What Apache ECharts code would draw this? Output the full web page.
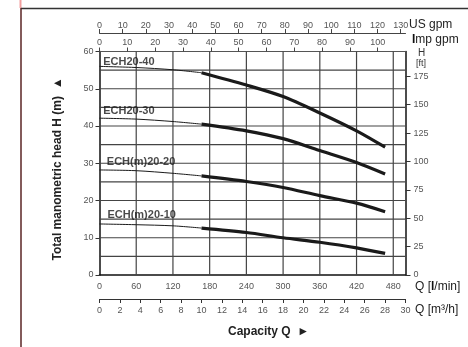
<!DOCTYPE html>
<html>
<head>
<meta charset="utf-8">
<script src="https://cdn.jsdelivr.net/npm/echarts@6/dist/echarts.min.js"></script>
<style>
html, body { margin: 0; padding: 0; background: #fff; }
#chart { width: 468px; height: 347px; }
</style>
</head>
<body>
<div id="chart"></div>
<script>
// Q in l/min, thin part then thick (working range) part
var flowThin = [0, 60, 120, 166.7];
var flowThick = [166.7, 240, 300, 360, 420, 466.7];

var pumpNames = ["ECH20-40", "ECH20-30", "ECH(m)20-20", "ECH(m)20-10"];
// H in m
var head40Thin = [56.0, 55.7, 55.1, 54.3];
var head40Thick = [54.3, 51.0, 47.9, 43.5, 38.7, 34.3];
var head30Thin = [42.1, 41.85, 41.2, 40.5];
var head30Thick = [40.5, 38.7, 36.6, 33.4, 30.2, 27.1];
var head20Thin = [28.2, 28.0, 27.3, 26.6];
var head20Thick = [26.6, 25.1, 23.5, 21.3, 19.3, 17.0];
var head10Thin = [13.7, 13.5, 13.2, 12.6];
var head10Thick = [12.6, 11.4, 10.0, 8.8, 7.3, 5.8];

// where the curve names sit (Q, H)
var nameQ = [6, 6, 12, 13];
var nameH = [57.3, 44.0, 30.3, 16.1];

// tick labels
var lminTicks = [0, 60, 120, 180, 240, 300, 360, 420, 480];
var m3hTicks = [0, 2, 4, 6, 8, 10, 12, 14, 16, 18, 20, 22, 24, 26, 28, 30];
var usGpmTicks = [0, 10, 20, 30, 40, 50, 60, 70, 80, 90, 100, 110, 120, 130];
var impGpmTicks = [0, 10, 20, 30, 40, 50, 60, 70, 80, 90, 100];
var mTicks = [0, 10, 20, 30, 40, 50, 60];
var ftTicks = [0, 25, 50, 75, 100, 125, 150, 175];
// grid lines
var gridQ = [60, 120, 180, 240, 300, 360, 420, 480];
var gridH = [5, 10, 15, 20, 25, 30, 35, 40, 45, 50, 55];

var Q_MAX = 500;
var H_MAX = 60;

var FONT = "Liberation Sans";
var labelGray = "#555";
var gridColor = "#444";

function zip (xs, ys) {
    var out = [];
    for (var i = 0; i < xs.length; i++) {
        out.push([xs[i], ys[i]]);
    }
    return out;
}

var thinSets = [head40Thin, head30Thin, head20Thin, head10Thin];
var thickSets = [head40Thick, head30Thick, head20Thick, head10Thick];

var series = [];
// vertical grid lines (splitLine didn't show up, so plain two-point lines)
gridQ.forEach(function (q) {
    series.push({
        type: "line",
        xAxisIndex: 0, yAxisIndex: 0,
        data: [[q, 0], [q, H_MAX]],
        showSymbol: false,
        silent: true,
        lineStyle: { color: gridColor, width: 1.2 },
        z: 2
    });
});
// horizontal grid lines
gridH.forEach(function (h) {
    series.push({
        type: "line",
        xAxisIndex: 0, yAxisIndex: 0,
        data: [[0, h], [Q_MAX, h]],
        showSymbol: false,
        silent: true,
        lineStyle: { color: gridColor, width: 1.2 },
        z: 2
    });
});
thinSets.forEach(function (h, i) {
    series.push({
        type: "line",
        name: pumpNames[i] + " thin",
        xAxisIndex: 0, yAxisIndex: 0,
        data: zip(flowThin, h),
        smooth: 0.3,
        showSymbol: false,
        lineStyle: { color: "#1a1a1a", width: 1 },
        z: 10
    });
});
thickSets.forEach(function (h, i) {
    series.push({
        type: "line",
        name: pumpNames[i],
        xAxisIndex: 0, yAxisIndex: 0,
        data: zip(flowThick, h),
        smooth: 0.3,
        showSymbol: false,
        lineStyle: { color: "#1a1a1a", width: 3.2, cap: "butt" },
        z: 10
    });
});
// curve names
series.push({
    type: "scatter",
    xAxisIndex: 0, yAxisIndex: 0,
    symbolSize: 0,
    data: pumpNames.map(function (n, i) { return { value: [nameQ[i], nameH[i]], name: n }; }),
    label: {
        show: true,
        position: "right",
        distance: 0,
        formatter: "{b}",
        fontFamily: FONT,
        fontWeight: "bold",
        fontSize: 11,
        color: "#1a1a1a"
    },
    z: 11
});

function tickLabel (values) {
    return { customValues: values, fontFamily: FONT, fontSize: 9, color: labelGray };
}

var option = {
    animation: false,
    backgroundColor: "#fff",
    grid: { left: 99.5, right: 62.5, top: 51.5, bottom: 72 },
    xAxis: [
        { // l/min
            type: "value", position: "bottom",
            min: 0, max: Q_MAX, interval: 60,
            axisLine: { show: true, onZero: false, lineStyle: { color: "#111", width: 1.5 } },
            axisTick: { show: false },
            axisLabel: Object.assign(tickLabel(lminTicks), { margin: 7 }),
            splitLine: { show: false }
        },
        { // m3/h
            type: "value", position: "bottom", offset: 24,
            min: 0, max: 30, interval: 2,
            axisLine: { show: true, onZero: false, lineStyle: { color: "#333", width: 1 } },
            axisTick: { show: true, customValues: m3hTicks, length: 4, lineStyle: { color: "#333" } },
            axisLabel: Object.assign(tickLabel(m3hTicks), { margin: 7 }),
            splitLine: { show: false }
        },
        { // US gpm
            type: "value", position: "top", offset: 18.5,
            min: 0, max: Q_MAX / 3.785411784,
            axisLine: { show: true, onZero: false, lineStyle: { color: "#444", width: 1 } },
            axisTick: { show: true, customValues: usGpmTicks, length: 4, lineStyle: { color: "#444" } },
            axisLabel: Object.assign(tickLabel(usGpmTicks), { margin: 3 }),
            splitLine: { show: false }
        },
        { // Imp gpm
            type: "value", position: "top", offset: 0,
            min: 0, max: Q_MAX / 4.54609,
            axisLine: { show: true, onZero: false, lineStyle: { color: "#555", width: 1 } },
            axisTick: { show: true, customValues: impGpmTicks, length: 4, lineStyle: { color: "#444" } },
            axisLabel: Object.assign(tickLabel(impGpmTicks), { margin: 4 }),
            splitLine: { show: false }
        }
    ],
    yAxis: [
        { // m
            type: "value", position: "left",
            min: 0, max: H_MAX, interval: 10,
            axisLine: { show: true, onZero: false, lineStyle: { color: "#111", width: 1.5 } },
            axisTick: { show: true, customValues: mTicks, length: 4, lineStyle: { color: "#333" } },
            axisLabel: Object.assign(tickLabel(mTicks), { margin: 6 }),
            splitLine: { show: false }
        },
        { // ft
            type: "value", position: "right",
            min: 0, max: H_MAX / 0.3048,
            axisLine: { show: true, onZero: false, lineStyle: { color: "#111", width: 1.5 } },
            axisTick: { show: true, customValues: ftTicks, length: 5, lineStyle: { color: "#333" } },
            axisLabel: Object.assign(tickLabel(ftTicks), { margin: 8 }),
            splitLine: { show: false }
        }
    ],
    graphic: [
        // outer frame
        { type: "line", shape: { x1: 20.5, y1: 0, x2: 20.5, y2: 8 }, style: { stroke: "#f2a0a0", lineWidth: 2 }, silent: true },
        { type: "line", shape: { x1: 21, y1: 8.5, x2: 468, y2: 8.5 }, style: { stroke: "#333", lineWidth: 1.5 }, silent: true },
        { type: "line", shape: { x1: 21, y1: 8, x2: 21, y2: 347 }, style: { stroke: "#5a2424", lineWidth: 1.5 }, silent: true },
        // unit captions
        { type: "text", left: 409, top: 19, style: { text: "US gpm", font: "12px " + FONT, fill: "#222" } },
        { type: "text", left: 412, top: 34, style: {
            text: "{b|I}mp gpm", font: "12px " + FONT, fill: "#222",
            rich: { b: { fontWeight: "bold", fontSize: 12, fontFamily: FONT, fill: "#111" } }
        } },
        { type: "text", left: 418, top: 48, style: { text: "H", font: "10px " + FONT, fill: "#333" } },
        { type: "text", left: 416, top: 59, style: { text: "[ft]", font: "9px " + FONT, fill: "#333" } },
        { type: "text", left: 415, top: 281, style: {
            text: "Q [{b|l}/min]", font: "12px " + FONT, fill: "#222",
            rich: { b: { fontWeight: "bold", fontSize: 12, fontFamily: FONT, fill: "#111" } }
        } },
        { type: "text", left: 415, top: 304, style: { text: "Q [m\u00b3/h]", font: "12px " + FONT, fill: "#222" } },
        { type: "text", left: 228, top: 326, style: { text: "Capacity Q  \u25ba", font: "bold 12px " + FONT, fill: "#222" } },
        { type: "text", x: 58, y: 169, rotation: Math.PI / 2, style: {
            text: "Total manometric head H (m)  \u25b2", font: "bold 12px " + FONT, fill: "#222",
            textAlign: "center", textVerticalAlign: "middle"
        } }
    ],
    series: series
};

var chart = echarts.init(document.getElementById("chart"));
chart.setOption(option);
</script>
</body>
</html>
